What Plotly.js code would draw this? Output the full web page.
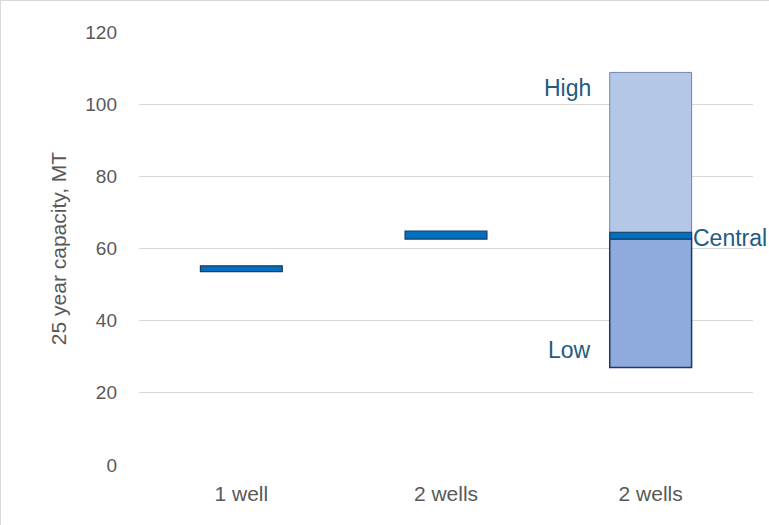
<!DOCTYPE html>
<html><head><script src="https://cdn.plot.ly/plotly-3.0.1.min.js"></script>
<style>body{margin:0;overflow:hidden}#c{width:769px;height:525px;box-sizing:border-box;border:1px solid #d9d9d9}</style></head>
<body><div id="c"></div><script>
const tickLabels=["1 well","2 wells","2 wells"];
const xPos=[0,1,2];
const centralLow=[53.6,62.6,62.6];
const centralHigh=[55.2,64.8,64.5];
const rangeLow=[27];
const rangeMid=[62.6];
const rangeHigh=[108.8];
const rangeX=[2];
const traces=[
 {type:'bar',x:rangeX,base:rangeLow,y:rangeMid.map((v,i)=>v-rangeLow[i]),width:0.40,
  marker:{color:'#8FAADC',line:{color:'#1F3864',width:1.5}},hoverinfo:'skip'},
 {type:'bar',x:rangeX,base:rangeMid,y:rangeHigh.map((v,i)=>v-rangeMid[i]),width:0.40,
  marker:{color:'#B4C7E7',line:{color:'#6F84B0',width:1}},hoverinfo:'skip'},
 {type:'bar',x:xPos,base:centralLow,y:centralHigh.map((v,i)=>v-centralLow[i]),width:0.40,
  marker:{color:'#0070C0',line:{color:'#1F3864',width:1.2}},hoverinfo:'skip'}
];
const lc='#1F5C80';
Plotly.newPlot('c',traces,{
 width:769,height:525,barmode:'overlay',showlegend:false,
 margin:{l:138,r:17,t:31,b:61},
 paper_bgcolor:'#fff',plot_bgcolor:'#fff',
 font:{family:'Liberation Sans, Arial',color:'#595959',size:19},
 xaxis:{range:[-0.5,2.5],tickvals:xPos,ticktext:tickLabels,showgrid:false,zeroline:false,showline:false,ticks:'',ticklabelstandoff:14,tickfont:{size:21}},
 yaxis:{range:[0,120],dtick:20,gridcolor:'#d9d9d9',zeroline:false,ticks:'',ticklabelstandoff:21,tickfont:{size:19},
  title:{text:'25 year capacity, MT',font:{size:21,color:'#595959'},standoff:12}},
 annotations:[
  {x:1.72,y:104.5,xref:'x',yref:'y',text:'High',showarrow:false,xanchor:'right',font:{size:23,color:lc}},
  {x:1.72,y:32,xref:'x',yref:'y',text:'Low',showarrow:false,xanchor:'right',font:{size:23,color:lc}},
  {x:2.195,y:63,xref:'x',yref:'y',text:'Central',showarrow:false,xanchor:'left',font:{size:23,color:lc}}
 ]
},{staticPlot:true});
</script></body></html>
